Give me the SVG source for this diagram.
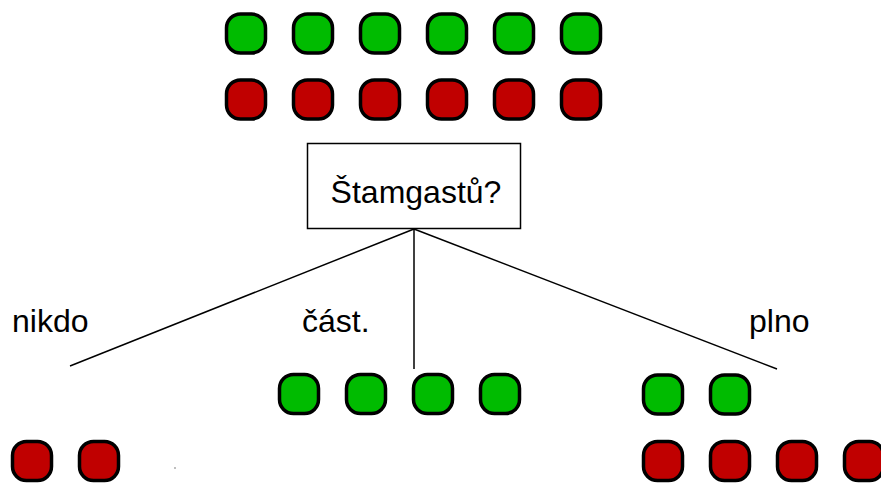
<svg xmlns="http://www.w3.org/2000/svg" width="881" height="485" viewBox="0 0 881 485">
<defs>
<style>
.g{fill:#00bb00;stroke:#000;stroke-width:3.5}
.r{fill:#c00000;stroke:#000;stroke-width:3.5}
.t{font-family:"Liberation Sans",Arial,sans-serif;font-size:32px;fill:#000}
.c{stroke:#000;stroke-width:1.5;fill:none}
</style>
<rect id="sq" x="0" y="0" width="39" height="39" rx="14"/>
</defs>
<rect width="881" height="485" fill="#fff"/>
<g id="top-green">
<use href="#sq" class="g" x="226.5" y="14"/>
<use href="#sq" class="g" x="293.5" y="14"/>
<use href="#sq" class="g" x="360.5" y="14"/>
<use href="#sq" class="g" x="427.5" y="14"/>
<use href="#sq" class="g" x="494.5" y="14"/>
<use href="#sq" class="g" x="561.5" y="14"/>
</g>
<g id="top-red">
<use href="#sq" class="r" x="226.5" y="80"/>
<use href="#sq" class="r" x="293.5" y="80"/>
<use href="#sq" class="r" x="360.5" y="80"/>
<use href="#sq" class="r" x="427.5" y="80"/>
<use href="#sq" class="r" x="494.5" y="80"/>
<use href="#sq" class="r" x="561.5" y="80"/>
</g>
<g id="question">
<rect x="307.5" y="143.5" width="213" height="85" fill="#fff" stroke="#000" stroke-width="1.5"/>
<text class="t" x="416" y="203" text-anchor="middle">Štamgastů?</text>
</g>
<g id="connectors">
<line class="c" x1="414" y1="229" x2="70" y2="366"/>
<line class="c" x1="414" y1="229" x2="414" y2="369"/>
<line class="c" x1="414" y1="229" x2="777" y2="369"/>
</g>
<g id="label-nikdo"><text class="t" x="12" y="332">nikdo</text></g>
<g id="label-cast"><text class="t" x="302" y="332">část.</text></g>
<g id="label-plno"><text class="t" x="749" y="332">plno</text></g>
<g id="nikdo-group">
<use href="#sq" class="r" x="12.5" y="441.5"/>
<use href="#sq" class="r" x="79.5" y="441.5"/>
<rect x="174.5" y="467.5" width="1" height="1" fill="#000"/>
</g>
<g id="cast-group">
<use href="#sq" class="g" x="279.5" y="374.5"/>
<use href="#sq" class="g" x="346.5" y="374.5"/>
<use href="#sq" class="g" x="413.5" y="374.5"/>
<use href="#sq" class="g" x="480.5" y="374.5"/>
</g>
<g id="plno-group">
<use href="#sq" class="g" x="643.5" y="375"/>
<use href="#sq" class="g" x="710.5" y="375"/>
<use href="#sq" class="r" x="643.5" y="441.5"/>
<use href="#sq" class="r" x="710.5" y="441.5"/>
<use href="#sq" class="r" x="777.5" y="441.5"/>
<use href="#sq" class="r" x="844.5" y="441.5"/>
</g>
</svg>
